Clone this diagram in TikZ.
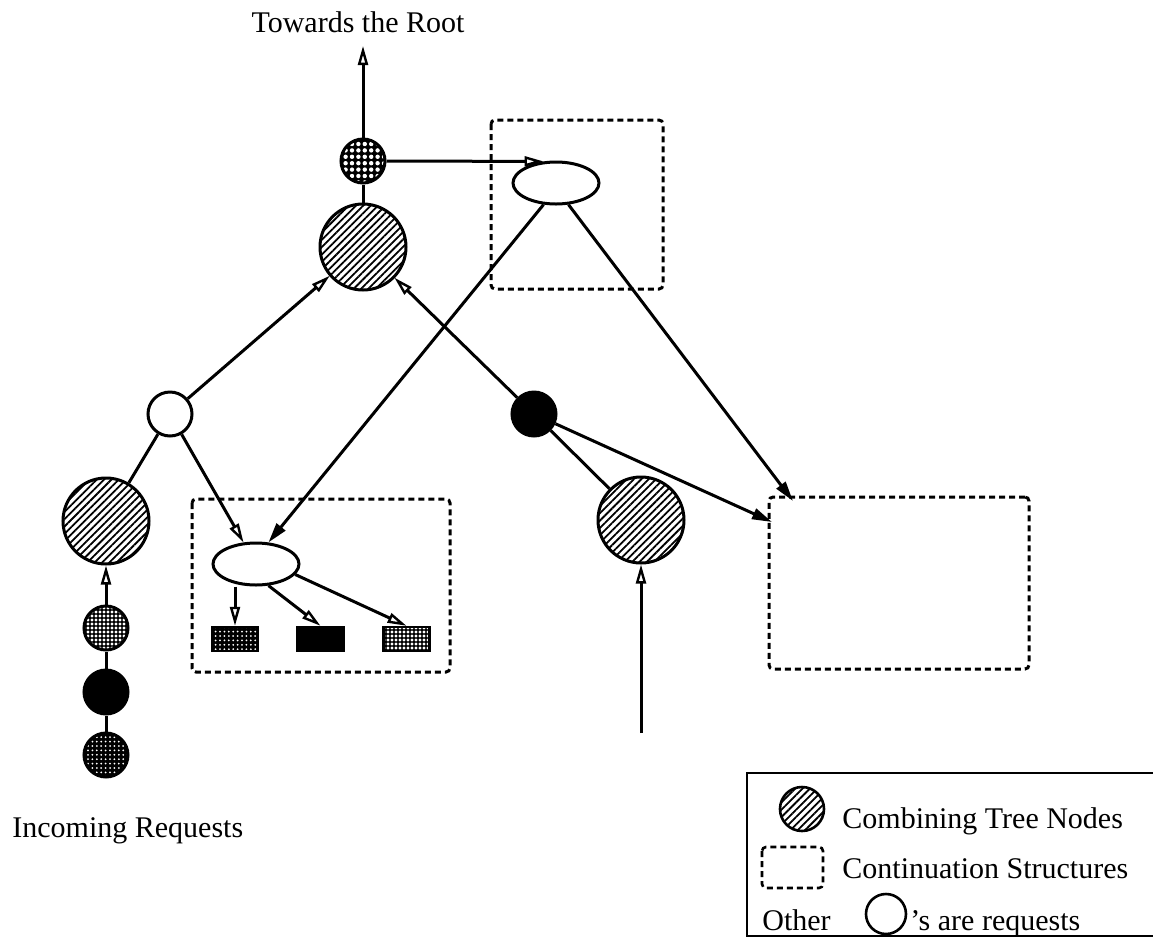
\documentclass[tikz,border=0pt]{standalone}
\usepackage{fontspec}
\setmainfont{Liberation Serif}
\usetikzlibrary{arrows.meta,patterns.meta,shapes.geometric}
\begin{document}
\begin{tikzpicture}[x=0.5pt,y=-0.5pt,
  every node/.style={font=\fontsize{15}{18}\selectfont},
  ln/.style={line width=1.5pt},
  oarr/.style={ln,-{Triangle[open,length=9.5pt,width=5pt,line width=1.2pt]}},
  farr/.style={ln,-{Triangle[length=10pt,width=5.5pt]}},
  ctn/.style={circle,draw,line width=1.5pt,minimum size=43pt,inner sep=0pt,
    pattern={Lines[angle=45,distance=2.6pt,line width=0.9pt]}},
  req/.style={circle,draw,line width=1.5pt,minimum size=22pt,inner sep=0pt},
  chkfill/.style={preaction={fill=black},pattern={Dots[distance=3.2pt,radius=1.1pt]},pattern color=white},
  lightfill/.style={preaction={fill=black},pattern={Dots[distance=2pt,radius=0.8pt]},pattern color=white},
  darkfill/.style={preaction={fill=black},pattern={Dots[distance=2.2pt,radius=0.5pt]},pattern color=white},
  cont/.style={draw,line width=1.5pt,dash pattern=on 3pt off 2pt,rounded corners=2pt},
  cell/.style={ellipse,draw,line width=1.5pt,fill=white,minimum width=43pt,minimum height=21pt,inner sep=0pt},
  slot/.style={rectangle,draw,line width=1.2pt,minimum width=23pt,minimum height=12pt,inner sep=0pt}
]
\useasboundingbox (0,0) rectangle (1153,944);

% continuation structures
\draw[cont] (491,120) rectangle (663,289);
\draw[cont] (192,499) rectangle (450,672);
\node[cont,minimum width=130pt,minimum height=86pt,inner sep=0pt] (rbox) at (899,583) {};

% combining tree
\node[req,chkfill] (chk) at (363,161) {};
\node[ctn] (hroot) at (363,247) {};
\node[req,fill=white] (wc) at (170,414) {};
\node[req,fill=black] (bk) at (534,414) {};
\node[ctn] (hl) at (106,521) {};
\node[ctn] (hr) at (641,520) {};
\node[req,lightfill] (q1) at (106,628) {};
\node[req,fill=black] (q2) at (106,692) {};
\node[req,darkfill] (q3) at (106,755) {};

\node[cell] (tell) at (556,183) {};
\node[cell] (bell) at (256,564) {};
\node[slot,darkfill] (r1) at (235,639) {};
\node[slot,fill=black] (r2) at (320.5,639) {};
\node[slot,lightfill] (r3) at (406.5,639) {};

\coordinate (top) at (363,46);
\coordinate (inc) at (641,733);
\coordinate (rin1) at (793,501);
\coordinate (rin2) at (772,522);

% labels
\node[anchor=base] (ttl) at (358,32) {Towards the Root};
\node[anchor=base west,inner sep=0pt] (inl) at (12,837) {Incoming Requests};

% connectors
\draw[oarr] (chk) -- (top);
\draw[ln] (chk) -- (hroot);
\draw[oarr] (chk) -- (tell.120);
\draw[oarr] (wc) -- (hroot);
\draw[oarr] (bk) -- (hroot);
\draw[ln] (wc) -- (hl);
\draw[ln] (bk) -- (hr);
\draw[oarr] (wc) -- (bell.120);
\draw[farr] (tell.240) -- (bell.60);
\draw[farr] (tell.300) -- (rin1);
\draw[farr] (bk) -- (rin2);
\draw[oarr] (bell.south -| r1.north) -- (r1.north);
\draw[oarr] (bell.300) -- (r2.north);
\draw[oarr] (bell.345) -- (r3.north);
\draw[oarr] (q1) -- (hl);
\draw[ln] (q1) -- (q2);
\draw[ln] (q2) -- (q3);
\draw[oarr] (inc) -- (hr);

% legend
\draw[line width=1.3pt] (1160,773) -- (747,773) -- (747,936) -- (1160,936);
\node[circle,draw,line width=1.3pt,minimum size=22pt,inner sep=0pt,
  pattern={Lines[angle=45,distance=2.6pt,line width=0.9pt]}] (lg1) at (802,809) {};
\node[anchor=base west,inner sep=0pt] (lt1) at (842,828) {Combining Tree Nodes};
\draw[cont,line width=1.3pt] (762,847) rectangle (823,888);
\node[anchor=base west,inner sep=0pt] (lt2) at (842,878) {Continuation Structures};
\node[anchor=base west,inner sep=0pt] (lt3) at (762,930) {Other};
\node[circle,draw,line width=1.3pt,minimum size=20pt,inner sep=0pt] (lg3) at (886,914) {};
\node[anchor=base west,inner sep=0pt] (lt4) at (910,930) {’s are requests};
\end{tikzpicture}
\end{document}
